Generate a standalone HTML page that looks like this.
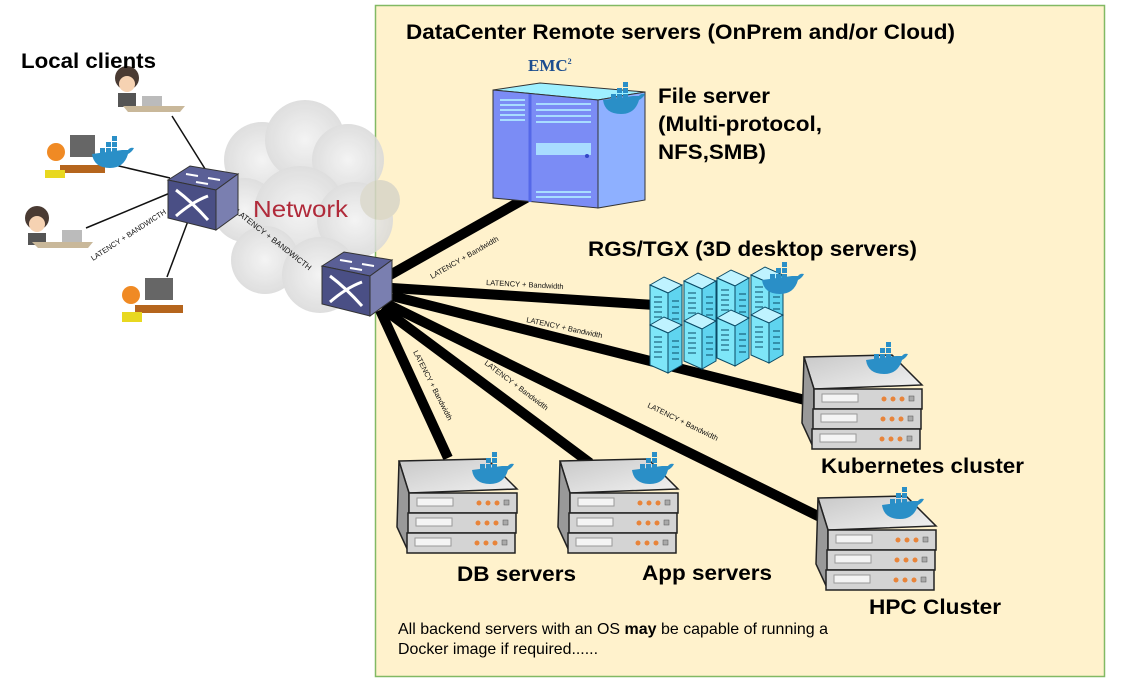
<!DOCTYPE html>
<html><head><meta charset="utf-8"><style>
html,body{margin:0;padding:0;background:#fff;}
svg{display:block;font-family:"Liberation Sans",Arial,sans-serif;}
</style></head><body>
<svg width="1130" height="697" viewBox="0 0 1130 697" xmlns="http://www.w3.org/2000/svg">
<defs>
<radialGradient id="cl" cx="50%" cy="50%" r="50%">
<stop offset="0" stop-color="#f2f2f2"/><stop offset="1" stop-color="#d9d9d9"/></radialGradient>
<linearGradient id="tp" x1="0" y1="0" x2="1" y2="1"><stop offset="0" stop-color="#c8c8c8"/><stop offset="1" stop-color="#f2f2f2"/></linearGradient>
<g id="whale">
<path d="M0,12 Q2,26 18,26 Q32,26 36,12 Q40,10 42,6 Q38,5 36,8 L30,8 Z" fill="#2a8fc7"/>
<rect x="8" y="6" width="5" height="5" fill="#2a8fc7"/><rect x="14" y="6" width="5" height="5" fill="#2a8fc7"/><rect x="20" y="6" width="5" height="5" fill="#2a8fc7"/>
<rect x="14" y="0" width="5" height="5" fill="#2a8fc7"/><rect x="20" y="0" width="5" height="5" fill="#2a8fc7"/><rect x="20" y="-6" width="5" height="5" fill="#2a8fc7"/>
</g>
<g id="srv">
<polygon points="2,4 90,2 120,32 12,36" fill="url(#tp)" stroke="#222" stroke-width="1.5"/>
<polygon points="2,4 12,36 12,96 0,70" fill="#999" stroke="#222" stroke-width="1.5"/>
<rect x="12" y="36" width="108" height="20" fill="#d4d4d4" stroke="#222" stroke-width="1.5"/>
<rect x="11" y="56" width="108" height="20" fill="#d4d4d4" stroke="#222" stroke-width="1.5"/>
<rect x="10" y="76" width="108" height="20" fill="#d4d4d4" stroke="#222" stroke-width="1.5"/>
<rect x="20" y="41" width="36" height="8" fill="#f4f4f4" stroke="#999"/><rect x="19" y="61" width="36" height="8" fill="#f4f4f4" stroke="#999"/><rect x="18" y="81" width="36" height="8" fill="#f4f4f4" stroke="#999"/>
<g fill="#e8843a"><circle cx="82" cy="46" r="2.5"/><circle cx="91" cy="46" r="2.5"/><circle cx="100" cy="46" r="2.5"/>
<circle cx="81" cy="66" r="2.5"/><circle cx="90" cy="66" r="2.5"/><circle cx="99" cy="66" r="2.5"/>
<circle cx="80" cy="86" r="2.5"/><circle cx="89" cy="86" r="2.5"/><circle cx="98" cy="86" r="2.5"/></g>
<g fill="#aaa" stroke="#555" stroke-width=".5"><rect x="107" y="43" width="5" height="5"/><rect x="106" y="63" width="5" height="5"/><rect x="105" y="83" width="5" height="5"/></g>
</g>
<g id="sw">
<polygon points="0,14 22,0 70,8 48,24" fill="#5a5f96" stroke="#333"/>
<polygon points="0,14 48,24 48,64 0,52" fill="#4a4f85" stroke="#333"/>
<polygon points="48,24 70,8 70,48 48,64" fill="#7a7fb0" stroke="#333"/>
<path d="M8,24 Q24,36 40,54 M8,50 Q24,36 40,30" stroke="#fff" stroke-width="3" fill="none"/>
<path d="M18,8 L30,10 M40,12 L52,14 M28,16 L40,18" stroke="#fff" stroke-width="2"/>
</g>
<g id="rack">
<polygon points="0,8 14,0 32,8 18,16" fill="#bff3ff" stroke="#0a4a66"/>
<polygon points="0,8 18,16 18,56 0,48" fill="#7ee6f8" stroke="#0a4a66"/>
<polygon points="18,16 32,8 32,48 18,56" fill="#5fd4ef" stroke="#0a4a66"/>
<g stroke="#0a4a66" stroke-width="1"><path d="M4,20 h8 M4,25 h8 M4,30 h8 M4,35 h8 M4,40 h8 M22,24 h7 M22,30 h7 M22,36 h7 M22,42 h7"/></g>
</g>
</defs>

<rect x="375.5" y="5.5" width="729" height="671" fill="#fff2cc" stroke="#82b964" stroke-width="1.5"/>

<!-- cloud -->
<g opacity=".85">
<circle cx="262" cy="160" r="38" fill="url(#cl)"/><circle cx="305" cy="140" r="40" fill="url(#cl)"/>
<circle cx="348" cy="160" r="36" fill="url(#cl)"/><circle cx="245" cy="210" r="32" fill="url(#cl)"/>
<circle cx="300" cy="212" r="46" fill="url(#cl)"/><circle cx="355" cy="220" r="38" fill="url(#cl)"/>
<circle cx="265" cy="260" r="34" fill="url(#cl)"/><circle cx="320" cy="275" r="38" fill="url(#cl)"/>
<circle cx="380" cy="200" r="20" fill="#d8d5c8"/>
</g>
<text x="253" y="217" font-size="23" fill="#b02a3a" textLength="95" lengthAdjust="spacingAndGlyphs">Network</text>
<text font-size="8" fill="#111" transform="translate(235,213) rotate(38)">LATENCY + BANDWICTH</text>

<!-- local lines -->
<g stroke="#111" stroke-width="1.5">
<line x1="172" y1="116" x2="207" y2="172"/><line x1="106" y1="163" x2="170" y2="178"/>
<line x1="86" y1="228" x2="170" y2="193"/><line x1="194" y1="205" x2="167" y2="277"/>
</g>
<text font-size="7.5" fill="#111" transform="translate(93,261) rotate(-33)">LATENCY + BANDWICTH</text>
<use href="#sw" x="168" y="166"/>

<!-- clients -->
<g>
<circle cx="127" cy="78" r="12" fill="#4a3b33"/><circle cx="127" cy="84" r="8" fill="#f6d2b2"/><rect x="118" y="93" width="18" height="14" fill="#555"/>
<rect x="142" y="96" width="20" height="11" fill="#bbb"/><polygon points="123,106 185,106 180,112 128,112" fill="#c9b89a"/>
<circle cx="37" cy="218" r="12" fill="#4a3b33"/><circle cx="37" cy="224" r="8" fill="#f6d2b2"/><rect x="28" y="233" width="18" height="12" fill="#555"/>
<rect x="62" y="230" width="20" height="12" fill="#bbb"/><polygon points="32,242 93,242 88,248 38,248" fill="#c9b89a"/>
<rect x="70" y="135" width="25" height="22" fill="#666"/><rect x="60" y="165" width="45" height="8" fill="#b5651d"/><circle cx="56" cy="152" r="9" fill="#f08a24"/><rect x="45" y="170" width="20" height="8" fill="#e8d820"/>
<use href="#whale" x="92" y="142"/>
<rect x="145" y="278" width="28" height="22" fill="#666"/><rect x="135" y="305" width="48" height="8" fill="#b5651d"/><circle cx="131" cy="295" r="9" fill="#f08a24"/><rect x="122" y="312" width="20" height="10" fill="#e8d820"/>
</g>
<text x="21" y="68" font-size="21" font-weight="bold" fill="#000" textLength="135" lengthAdjust="spacingAndGlyphs">Local clients</text>

<!-- backbone lines -->
<g stroke="#000" stroke-width="10" stroke-linecap="butt">
<line x1="390" y1="275" x2="535" y2="193"/>
<line x1="392" y1="288" x2="655" y2="305"/>
<line x1="392" y1="296" x2="805" y2="400"/>
<line x1="385" y1="303" x2="822" y2="518"/>
<line x1="382" y1="308" x2="590" y2="463"/>
<line x1="380" y1="310" x2="448" y2="458"/>
</g>
<g font-size="7.5" fill="#111">
<text transform="translate(432,279) rotate(-30)">LATENCY + Bandwidth</text>
<text transform="translate(486,285) rotate(3)">LATENCY + Bandwidth</text>
<text transform="translate(526,322) rotate(12)">LATENCY + Bandwidth</text>
<text transform="translate(647,407) rotate(26)">LATENCY + Bandwidth</text>
<text transform="translate(484,364) rotate(37)">LATENCY + Bandwidth</text>
<text transform="translate(413,352) rotate(63)">LATENCY + Bandwidth</text>
</g>

<use href="#sw" x="322" y="252"/>

<!-- file server -->
<text x="528" y="71" font-size="17" font-family="Liberation Serif,serif" font-weight="bold" fill="#1d4e8f">EMC<tspan font-size="8" dy="-7">2</tspan></text>
<polygon points="493,90 540,83 645,92 598,100" fill="#9ef0ff" stroke="#333"/>
<polygon points="493,90 598,100 598,208 493,198" fill="#7b8cf5" stroke="#333"/>
<polygon points="598,100 645,92 645,200 598,208" fill="#8eb0ff" stroke="#333"/>
<line x1="530" y1="94" x2="530" y2="202" stroke="#5568e8" stroke-width="3"/>
<g stroke="#a8dcff" stroke-width="2"><path d="M500,100 h25 M500,105 h25 M500,110 h25 M500,115 h25 M500,120 h25 M536,104 h55 M536,110 h55 M536,116 h55 M536,122 h55 M536,192 h55 M536,197 h55"/></g>
<rect x="536" y="143" width="55" height="12" fill="#a8dcff"/><circle cx="587" cy="156" r="2" fill="#3348c8"/>
<use href="#whale" x="603" y="88"/>
<g font-size="21" font-weight="bold" fill="#000">
<text x="406" y="39" textLength="549" lengthAdjust="spacingAndGlyphs">DataCenter Remote servers (OnPrem and/or Cloud)</text>
<text x="658" y="103" textLength="112" lengthAdjust="spacingAndGlyphs">File server</text>
<text x="658" y="131" textLength="164" lengthAdjust="spacingAndGlyphs">(Multi-protocol,</text>
<text x="658" y="159" textLength="108" lengthAdjust="spacingAndGlyphs">NFS,SMB)</text>
<text x="588" y="256" textLength="329" lengthAdjust="spacingAndGlyphs">RGS/TGX (3D desktop servers)</text>
<text x="821" y="473" textLength="203" lengthAdjust="spacingAndGlyphs">Kubernetes cluster</text>
<text x="869" y="614" textLength="132" lengthAdjust="spacingAndGlyphs">HPC Cluster</text>
<text x="457" y="581" textLength="119" lengthAdjust="spacingAndGlyphs">DB servers</text>
<text x="642" y="580" textLength="130" lengthAdjust="spacingAndGlyphs">App servers</text>
</g>

<!-- racks -->
<use href="#rack" x="650" y="277"/><use href="#rack" x="684" y="273"/><use href="#rack" x="717" y="270"/><use href="#rack" x="751" y="267"/>
<use href="#rack" x="650" y="317"/><use href="#rack" x="684" y="313"/><use href="#rack" x="717" y="310"/><use href="#rack" x="751" y="307"/>
<use href="#whale" x="762" y="268"/>

<!-- server stacks -->
<use href="#srv" x="397" y="457"/><use href="#whale" x="472" y="458"/>
<use href="#srv" x="558" y="457"/><use href="#whale" x="632" y="458"/>
<use href="#srv" x="802" y="353"/><use href="#whale" x="866" y="348"/>
<use href="#srv" x="816" y="494"/><use href="#whale" x="882" y="493"/>

<g font-size="16" fill="#000">
<text x="398" y="634" textLength="430" lengthAdjust="spacingAndGlyphs">All backend servers with an OS <tspan font-weight="bold">may</tspan> be capable of running a</text>
<text x="398" y="654" textLength="200" lengthAdjust="spacingAndGlyphs">Docker image if required......</text>
</g>
</svg>
</body></html>
